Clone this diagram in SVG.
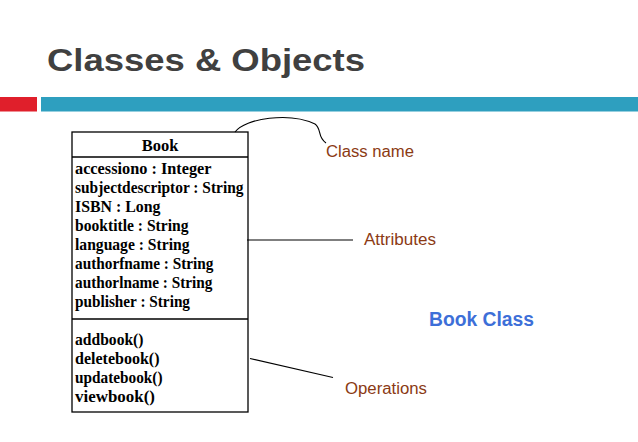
<svg xmlns="http://www.w3.org/2000/svg" width="638" height="442" viewBox="0 0 638 442">
<style>
.title{font-family:"Liberation Sans",Arial,sans-serif;font-weight:bold;fill:#404040}
.uml{font-family:"Liberation Serif","Times New Roman",serif;font-weight:bold;font-size:16.5px;fill:#000}
.lbl{font-family:"Liberation Sans",Arial,sans-serif;font-size:16px;fill:#8B3A14}
.cls{font-family:"Liberation Sans",Arial,sans-serif;font-weight:bold;font-size:19.5px;fill:#3D6FD8}
.box{fill:#fff;stroke:#000;stroke-width:1.3}
.con{fill:none;stroke:#000;stroke-width:1.1}
</style>
<rect width="638" height="442" fill="#fff"/>
<text class="title" x="47" y="71" font-size="31" textLength="318" lengthAdjust="spacingAndGlyphs">Classes &amp; Objects</text>
<rect x="0" y="97" width="37" height="14.5" fill="#E01F2B"/>
<rect x="41" y="97" width="597" height="14.5" fill="#2E9FBF"/>
<g id="book-class">
<rect class="box" x="72" y="132" width="176" height="280"/>
<line class="box" x1="72" y1="157" x2="248" y2="157"/>
<line class="box" x1="72" y1="319" x2="248" y2="319"/>
<text class="uml" x="160" y="151" text-anchor="middle">Book</text>
<text class="uml" x="75" y="173.5" textLength="136.5" lengthAdjust="spacingAndGlyphs">accessiono : Integer</text>
<text class="uml" x="75" y="192.5" textLength="168.5" lengthAdjust="spacingAndGlyphs">subjectdescriptor : String</text>
<text class="uml" x="75" y="211.5" textLength="85.5" lengthAdjust="spacingAndGlyphs">ISBN : Long</text>
<text class="uml" x="75" y="230.5" textLength="113.5" lengthAdjust="spacingAndGlyphs">booktitle : String</text>
<text class="uml" x="75" y="249.5" textLength="114.5" lengthAdjust="spacingAndGlyphs">language : String</text>
<text class="uml" x="75" y="268.5" textLength="138.5" lengthAdjust="spacingAndGlyphs">authorfname : String</text>
<text class="uml" x="75" y="287.5" textLength="137.5" lengthAdjust="spacingAndGlyphs">authorlname : String</text>
<text class="uml" x="75" y="306.5" textLength="115" lengthAdjust="spacingAndGlyphs">publisher : String</text>
<text class="uml" x="75" y="345" textLength="68.5" lengthAdjust="spacingAndGlyphs">addbook()</text>
<text class="uml" x="75" y="364" textLength="84.5" lengthAdjust="spacingAndGlyphs">deletebook()</text>
<text class="uml" x="75" y="383" textLength="87.5" lengthAdjust="spacingAndGlyphs">updatebook()</text>
<text class="uml" x="75" y="402" textLength="80" lengthAdjust="spacingAndGlyphs">viewbook()</text>
</g>
<g id="connectors">
<path class="con" d="M235,132 C245,118 290,112 315,124 C322,129 317,137 326,143"/>
<line class="con" x1="247" y1="240" x2="353" y2="240"/>
<line class="con" x1="250" y1="358.5" x2="333" y2="377.5"/>
</g>
<g id="label-classname"><text class="lbl" x="326" y="157" textLength="88" lengthAdjust="spacingAndGlyphs">Class name</text></g>
<g id="label-attributes"><text class="lbl" x="364" y="244.5" textLength="72" lengthAdjust="spacingAndGlyphs">Attributes</text></g>
<g id="label-operations"><text class="lbl" x="345" y="393.5" textLength="82" lengthAdjust="spacingAndGlyphs">Operations</text></g>
<g id="label-bookclass"><text class="cls" x="429" y="326" textLength="105" lengthAdjust="spacingAndGlyphs">Book Class</text></g>
</svg>
